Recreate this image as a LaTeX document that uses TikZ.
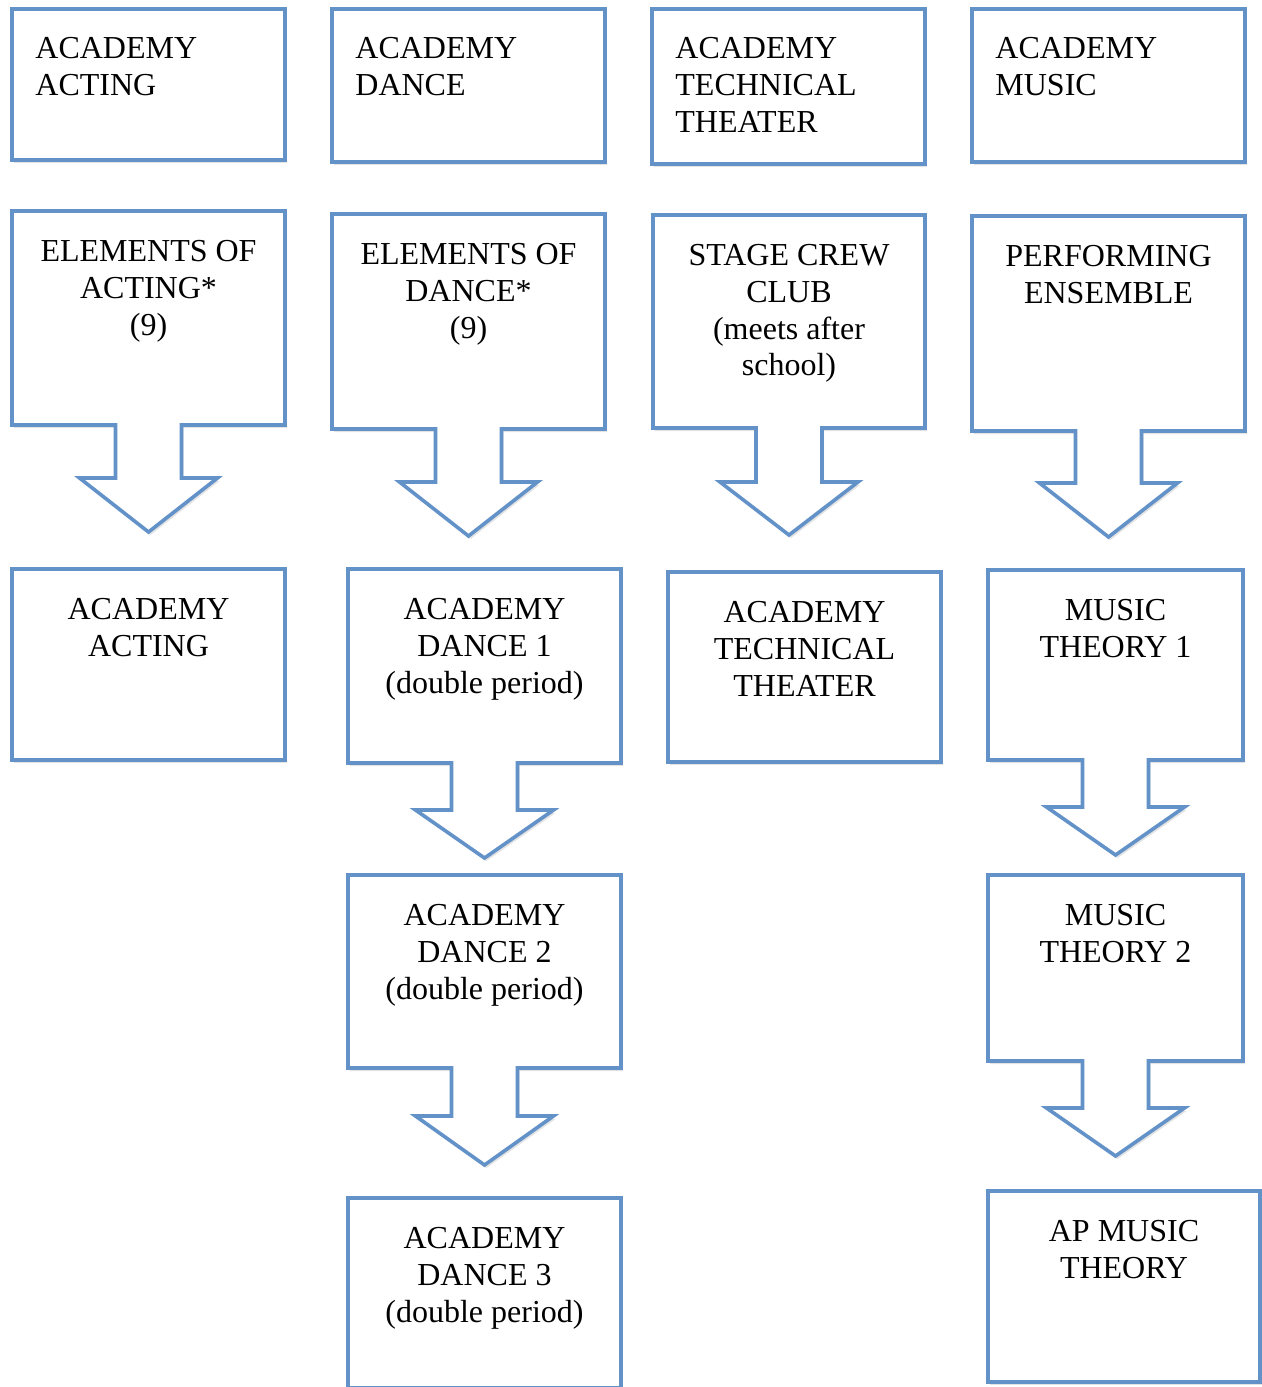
\documentclass[tikz,border=0pt]{standalone}
\usepackage{fontspec}
\setmainfont{Liberation Serif}
\usetikzlibrary{calc,shadows}
\definecolor{boxblue}{RGB}{99,146,201}

% panel outline with a down arrow: #1 panel, #2 shaft length, #3 head height (px)
\newcommand{\downcallout}[3]{%
  \draw[frame] (#1.north west) -- (#1.north east) -- (#1.south east)
    -- ($(#1.south)+(33,0)$) -- ($(#1.south)+(33,#2)$) -- ($(#1.south)+(69,#2)$)
    -- ($(#1.south)+(0,#2+#3)$)
    -- ($(#1.south)+(-69,#2)$) -- ($(#1.south)+(-33,#2)$) -- ($(#1.south)+(-33,0)$)
    -- (#1.south west) -- cycle;}

\begin{document}
\begin{tikzpicture}[x=0.5pt,y=-0.5pt,
    frame/.style={draw=boxblue,line width=1.8pt,fill=white,
      drop shadow={opacity=0.22,shadow xshift=1pt,shadow yshift=-1.5pt}},
    box/.style={frame,rectangle,anchor=north west,inner sep=0pt,outer sep=0pt,minimum width=136.5pt},
    panel/.style={rectangle,anchor=north west,inner sep=0pt,outer sep=0pt,minimum width=136.5pt},
    boxtext/.style={anchor=north,align=center,inner sep=0pt,font=\fontsize{16}{18.4}\selectfont},
    boxtextl/.style={boxtext,anchor=north west,align=left}]
    \useasboundingbox (0,0) rectangle (1262,1387);

    % top row
    \node[box,minimum height=75.5pt] (acadActing) at (12,9) {};
    \node[boxtextl] (acadActingT) at ($(acadActing.north west)+(23,28)$) {ACADEMY\\ACTING};
    \node[box,minimum height=76.5pt] (acadDance) at (332,9) {};
    \node[boxtextl] (acadDanceT) at ($(acadDance.north west)+(23,28)$) {ACADEMY\\DANCE};
    \node[box,minimum height=77.5pt] (acadTech) at (652,9) {};
    \node[boxtextl] (acadTechT) at ($(acadTech.north west)+(23,28)$) {ACADEMY\\TECHNICAL\\THEATER};
    \node[box,minimum height=76.5pt] (acadMusic) at (972,9) {};
    \node[boxtextl] (acadMusicT) at ($(acadMusic.north west)+(23,28)$) {ACADEMY\\MUSIC};

    % second row
    \node[panel,minimum height=107pt] (elemActing) at (12,211) {};
    \downcallout{elemActing}{53}{54}
    \node[boxtext] (elemActingT) at ($(elemActing.north)+(0,29)$) {ELEMENTS OF\\ACTING*\\(9)};
    \node[panel,minimum height=107.5pt] (elemDance) at (332,214) {};
    \downcallout{elemDance}{53}{54}
    \node[boxtext] (elemDanceT) at ($(elemDance.north)+(0,29)$) {ELEMENTS OF\\DANCE*\\(9)};
    \node[panel,minimum width=136pt,minimum height=106.5pt] (stageCrew) at (653,215) {};
    \downcallout{stageCrew}{54}{53}
    \node[boxtext] (stageCrewT) at ($(stageCrew.north)+(0,29)$) {STAGE CREW\\CLUB\\(meets after\\school)};
    \node[panel,minimum height=107.5pt] (perfEns) at (972,216) {};
    \downcallout{perfEns}{52}{54}
    \node[boxtext] (perfEnsT) at ($(perfEns.north)+(0,29)$) {PERFORMING\\ENSEMBLE};

    % third row
    \node[box,minimum height=95.5pt] (acting) at (12,569) {};
    \node[boxtext] (actingT) at ($(acting.north)+(0,29)$) {ACADEMY\\ACTING};
    \node[panel,minimum height=97pt] (dance1) at (348,569) {};
    \downcallout{dance1}{47}{48}
    \node[boxtext] (dance1T) at ($(dance1.north)+(0,29)$) {ACADEMY\\DANCE 1\\(double period)};
    \node[box,minimum height=95pt] (techTheater) at (668,572) {};
    \node[boxtext] (techTheaterT) at ($(techTheater.north)+(0,29)$) {ACADEMY\\TECHNICAL\\THEATER};
    \node[panel,minimum width=127.5pt,minimum height=95pt] (theory1) at (988,570) {};
    \downcallout{theory1}{47}{48}
    \node[boxtext] (theory1T) at ($(theory1.north)+(0,29)$) {MUSIC\\THEORY 1};

    % fourth row
    \node[panel,minimum height=96.5pt] (dance2) at (348,875) {};
    \downcallout{dance2}{48}{49}
    \node[boxtext] (dance2T) at ($(dance2.north)+(0,29)$) {ACADEMY\\DANCE 2\\(double period)};
    \node[panel,minimum width=127.5pt,minimum height=93pt] (theory2) at (988,875) {};
    \downcallout{theory2}{47}{48}
    \node[boxtext] (theory2T) at ($(theory2.north)+(0,29)$) {MUSIC\\THEORY 2};

    % last row
    \node[box,minimum height=95pt] (dance3) at (348,1198) {};
    \node[boxtext] (dance3T) at ($(dance3.north)+(0,29)$) {ACADEMY\\DANCE 3\\(double period)};
    \node[box,minimum width=136pt,minimum height=95.5pt] (apTheory) at (988,1191) {};
    \node[boxtext] (apTheoryT) at ($(apTheory.north)+(0,29)$) {AP MUSIC\\THEORY};
\end{tikzpicture}
\end{document}
